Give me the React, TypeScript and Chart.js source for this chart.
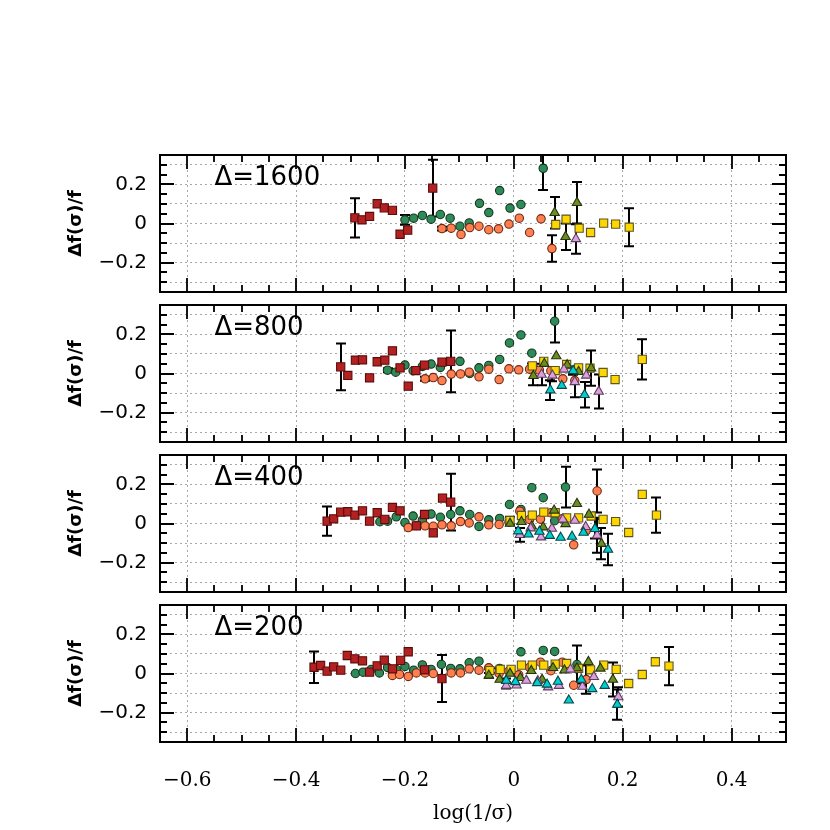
import React, { useEffect, useRef } from 'react';
import { Chart, registerables } from 'chart.js';

Chart.register(...registerables);

type Pt = [number, number, number]; // [log(1/sigma), delta f / f, error]

const X_TICKS = [-0.6, -0.4, -0.2, 0, 0.2, 0.4];
const Y_GRID = [-0.3, -0.2, -0.1, 0, 0.1, 0.2, 0.3];
const Y_LABELS = [-0.2, 0, 0.2];
const PANEL_LABELS = ['Δ=1600', 'Δ=800', 'Δ=400', 'Δ=200'];

// ---------- Δ = 1600 ----------
const red1600: Pt[] = [
  [-0.292, 0.029, 0.1], [-0.279, 0.019, 0], [-0.265, 0.036, 0], [-0.251, 0.101, 0],
  [-0.238, 0.08, 0], [-0.223, 0.067, 0], [-0.209, -0.055, 0], [-0.195, -0.034, 0],
  [-0.149, 0.181, 0.145],
];
const green1600: Pt[] = [
  [-0.2, 0.019, 0.025], [-0.184, 0.027, 0], [-0.168, 0.041, 0], [-0.152, 0.022, 0],
  [-0.135, 0.046, 0], [-0.117, 0.027, 0], [-0.099, -0.014, 0], [-0.082, 0.003, 0],
  [-0.063, 0.103, 0], [-0.046, 0.056, 0], [-0.026, 0.168, 0], [-0.007, 0.079, 0],
  [0.013, 0.097, 0], [0.054, 0.282, 0.111],
];
const orange1600: Pt[] = [
  [-0.132, -0.026, 0.01], [-0.115, -0.024, 0], [-0.097, -0.056, 0], [-0.081, -0.021, 0],
  [-0.064, -0.014, 0], [-0.046, -0.032, 0], [-0.028, -0.027, 0], [-0.009, -0.003, 0],
  [0.01, 0.027, 0], [0.029, -0.046, 0], [0.05, 0.024, 0], [0.07, -0.128, 0.068],
];
const gold1600: Pt[] = [
  [0.077, -0.005, 0], [0.096, 0.022, 0], [0.12, -0.024, 0], [0.141, -0.046, 0],
  [0.165, 0.002, 0], [0.187, -0.003, 0], [0.212, -0.019, 0.097],
];
const olive1600: Pt[] = [
  [0.075, 0.055, 0.08], [0.095, -0.068, 0.068], [0.116, 0.106, 0.106],
];
const plum1600: Pt[] = [[0.114, -0.079, 0.075]];
const cyan1600: Pt[] = [];

// ---------- Δ = 800 ----------
const red800: Pt[] = [
  [-0.318, 0.034, 0.119], [-0.305, -0.01, 0], [-0.291, 0.068, 0], [-0.278, 0.07, 0],
  [-0.265, -0.022, 0], [-0.251, 0.06, 0], [-0.237, 0.068, 0], [-0.223, 0.116, 0],
  [-0.209, 0.029, 0], [-0.194, -0.065, 0], [-0.18, 0.015, 0], [-0.164, 0.043, 0],
  [-0.132, 0.058, 0], [-0.116, 0.062, 0.158],
];
const green800: Pt[] = [
  [-0.232, 0.017, 0.01], [-0.217, 0.007, 0], [-0.2, 0.043, 0], [-0.185, 0.014, 0],
  [-0.168, 0.036, 0], [-0.152, 0.048, 0], [-0.135, 0.031, 0], [-0.099, 0.062, 0],
  [-0.081, 0.0, 0], [-0.064, 0.029, 0], [-0.046, 0.041, 0], [-0.026, 0.072, 0],
  [-0.008, 0.156, 0], [0.013, 0.197, 0], [0.033, 0.104, 0], [0.075, 0.267, 0.109],
];
const orange800: Pt[] = [
  [-0.163, -0.027, 0.01], [-0.148, -0.021, 0], [-0.132, -0.036, 0], [-0.115, -0.003, 0],
  [-0.098, -0.002, 0], [-0.082, 0.007, 0], [-0.064, -0.017, 0], [-0.046, 0.022, 0],
  [-0.027, -0.031, 0], [-0.009, 0.024, 0], [0.009, 0.019, 0], [0.029, 0.022, 0],
  [0.047, 0.017, 0], [0.068, 0.014, 0], [0.09, -0.027, 0], [0.112, -0.036, 0],
];
const gold800: Pt[] = [
  [0.034, 0.039, 0.012], [0.055, 0.062, 0], [0.076, 0.015, 0], [0.097, 0.046, 0],
  [0.119, 0.029, 0], [0.14, 0.027, 0], [0.164, 0.005, 0], [0.186, -0.031, 0],
  [0.236, 0.072, 0.103],
];
const olive800: Pt[] = [
  [0.036, -0.012, 0.048], [0.056, 0.05, 0], [0.078, 0.089, 0], [0.098, 0.043, 0],
  [0.119, 0.009, 0], [0.142, 0.027, 0.09],
];
const plum800: Pt[] = [
  [0.051, -0.005, 0.055], [0.071, -0.01, 0.03], [0.092, 0.021, 0], [0.112, -0.043, 0.078],
  [0.133, -0.01, 0], [0.156, -0.092, 0.087],
];
const cyan800: Pt[] = [
  [0.067, -0.085, 0.05], [0.088, -0.062, 0], [0.109, 0.014, 0.02], [0.13, -0.109, 0.065],
];

// ---------- Δ = 400 ----------
const red400: Pt[] = [
  [-0.343, 0.012, 0.075], [-0.331, 0.024, 0], [-0.318, 0.058, 0], [-0.305, 0.06, 0],
  [-0.292, 0.043, 0], [-0.278, 0.065, 0], [-0.265, 0.012, 0], [-0.251, 0.055, 0],
  [-0.237, 0.021, 0], [-0.223, 0.082, 0], [-0.209, 0.065, 0], [-0.179, -0.012, 0],
  [-0.164, 0.046, 0], [-0.148, -0.048, 0], [-0.131, 0.13, 0], [-0.116, 0.109, 0.145],
];
const green400: Pt[] = [
  [-0.246, 0.009, 0], [-0.232, 0.012, 0], [-0.216, 0.034, 0], [-0.2, 0.005, 0],
  [-0.185, 0.038, 0], [-0.168, 0.017, 0], [-0.152, 0.048, 0], [-0.135, 0.032, 0],
  [-0.116, 0.046, 0], [-0.099, 0.065, 0], [-0.081, 0.046, 0], [-0.064, -0.015, 0],
  [-0.046, 0.019, 0], [-0.026, 0.026, 0], [-0.008, 0.097, 0], [0.013, 0.072, 0],
  [0.033, 0.183, 0], [0.054, 0.132, 0], [0.075, 0.014, 0], [0.095, 0.186, 0.104],
];
const orange400: Pt[] = [
  [-0.194, -0.021, 0], [-0.179, -0.01, 0], [-0.163, -0.012, 0], [-0.148, -0.014, 0],
  [-0.132, -0.007, 0], [-0.115, -0.012, 0], [-0.098, 0.01, 0], [-0.082, 0.003, 0],
  [-0.064, 0.034, 0], [-0.046, -0.007, 0], [-0.027, -0.005, 0], [-0.009, 0.007, 0],
  [0.011, 0.063, 0], [0.029, 0.021, 0], [0.049, 0.022, 0], [0.068, 0.055, 0],
  [0.089, 0.024, 0], [0.11, -0.109, 0], [0.133, -0.036, 0], [0.153, 0.166, 0.11],
];
const gold400: Pt[] = [
  [-0.007, 0.015, 0.02], [0.014, 0.041, 0], [0.034, 0.043, 0], [0.055, 0.058, 0],
  [0.076, 0.055, 0], [0.097, 0.029, 0], [0.119, 0.029, 0], [0.142, 0.038, 0],
  [0.164, 0.021, 0], [0.187, 0.01, 0], [0.211, -0.046, 0], [0.236, 0.149, 0],
  [0.262, 0.043, 0.09],
];
const olive400: Pt[] = [
  [-0.007, 0.0, 0], [0.014, 0.009, 0], [0.033, -0.014, 0], [0.054, -0.019, 0],
  [0.074, 0.067, 0], [0.095, -0.002, 0], [0.116, 0.101, 0], [0.138, 0.046, 0],
  [0.161, -0.103, 0.08],
];
const plum400: Pt[] = [
  [0.011, -0.058, 0.035], [0.031, -0.024, 0], [0.05, -0.07, 0], [0.07, -0.026, 0],
  [0.09, 0.021, 0], [0.112, 0.015, 0], [0.132, -0.017, 0], [0.153, -0.06, 0.09],
];
const cyan400: Pt[] = [
  [0.008, -0.039, 0], [0.027, -0.055, 0], [0.047, -0.041, 0], [0.066, -0.062, 0],
  [0.086, -0.072, 0], [0.107, -0.067, 0], [0.128, -0.046, 0], [0.149, -0.027, 0.05],
  [0.173, -0.133, 0.08],
];

// ---------- Δ = 200 ----------
const red200: Pt[] = [
  [-0.367, 0.032, 0.08], [-0.355, 0.041, 0], [-0.343, 0.012, 0], [-0.331, 0.034, 0],
  [-0.318, 0.017, 0], [-0.306, 0.092, 0], [-0.292, 0.075, 0], [-0.278, 0.065, 0],
  [-0.265, 0.007, 0], [-0.251, 0.039, 0], [-0.238, 0.068, 0], [-0.223, 0.024, 0],
  [-0.208, 0.067, 0], [-0.194, 0.111, 0], [-0.164, 0.019, 0], [-0.132, -0.026, 0.12],
];
const green200: Pt[] = [
  [-0.291, 0.0, 0], [-0.277, 0.007, 0], [-0.262, 0.021, 0], [-0.247, 0.003, 0],
  [-0.232, 0.031, 0], [-0.216, 0.021, 0], [-0.2, 0.036, 0], [-0.184, 0.017, 0],
  [-0.168, 0.044, 0], [-0.152, 0.021, 0], [-0.133, 0.046, 0], [-0.116, 0.026, 0],
  [-0.099, 0.024, 0], [-0.082, 0.055, 0], [-0.064, 0.063, 0], [-0.046, 0.027, 0],
  [-0.026, 0.026, 0], [0.013, 0.111, 0], [0.054, 0.118, 0], [0.075, 0.113, 0],
  [0.116, 0.046, 0.097],
];
const orange200: Pt[] = [
  [-0.223, -0.01, 0], [-0.21, -0.005, 0], [-0.194, -0.015, 0], [-0.179, 0.003, 0],
  [-0.163, 0.003, 0], [-0.148, 0.0, 0], [-0.115, 0.003, 0], [-0.098, 0.003, 0],
  [-0.082, 0.024, 0], [-0.064, 0.017, 0], [-0.046, 0.029, 0], [-0.027, 0.0, 0],
  [-0.009, 0.012, 0], [0.009, -0.007, 0], [0.029, 0.031, 0], [0.049, 0.058, 0],
  [0.068, 0.014, 0], [0.089, 0.058, 0], [0.11, -0.06, 0], [0.133, -0.031, 0.072],
];
const gold200: Pt[] = [
  [-0.044, 0.015, 0.012], [-0.025, 0.021, 0], [-0.005, 0.021, 0], [0.014, 0.043, 0],
  [0.034, 0.043, 0], [0.055, 0.043, 0], [0.076, 0.048, 0], [0.097, 0.051, 0],
  [0.119, 0.026, 0], [0.141, 0.019, 0], [0.165, 0.043, 0], [0.188, 0.021, 0],
  [0.211, -0.051, 0], [0.236, -0.005, 0], [0.26, 0.06, 0], [0.285, 0.038, 0.098],
];
const olive200: Pt[] = [
  [-0.046, -0.01, 0.012], [-0.026, -0.031, 0], [-0.007, 0.0, 0], [0.012, -0.022, 0],
  [0.032, 0.014, 0], [0.052, -0.031, 0], [0.072, 0.029, 0], [0.093, 0.017, 0],
  [0.116, 0.027, 0], [0.137, 0.06, 0], [0.159, 0.026, 0], [0.182, -0.031, 0.087],
];
const plum200: Pt[] = [
  [-0.014, -0.062, 0.015], [0.005, -0.06, 0], [0.023, -0.036, 0], [0.044, -0.038, 0],
  [0.063, -0.07, 0], [0.083, -0.062, 0], [0.104, 0.021, 0], [0.126, -0.067, 0],
  [0.147, -0.017, 0], [0.192, -0.12, 0.05],
];
const cyan200: Pt[] = [
  [-0.014, -0.036, 0.01], [0.003, -0.043, 0], [0.043, -0.048, 0], [0.061, -0.056, 0],
  [0.081, -0.041, 0], [0.101, -0.137, 0], [0.124, -0.031, 0], [0.144, -0.079, 0],
  [0.167, -0.062, 0], [0.19, -0.159, 0.077],
];

// series order: bottom -> top
const SERIES_STYLES = [
  { style: 'circle', fill: '#2E8B57', border: '#12351f', radius: 4.2 },
  { style: 'circle', fill: '#FF7F50', border: '#6b2a12', radius: 4.2 },
  { style: 'rect', fill: '#B22222', border: '#5c0b0b', radius: 5.8 },
  { style: 'rect', fill: '#FFD700', border: '#5d5525', radius: 5.8 },
  { style: 'triangle', fill: '#6B8E23', border: '#26330c', radius: 5.4 },
  { style: 'triangle', fill: '#DDA0DD', border: '#5e3e5e', radius: 5.4 },
  { style: 'triangle', fill: '#00CED1', border: '#0b4748', radius: 5.4 },
];

const PANEL_SERIES: Pt[][][] = [
  [green1600, orange1600, red1600, gold1600, olive1600, plum1600, cyan1600],
  [green800, orange800, red800, gold800, olive800, plum800, cyan800],
  [green400, orange400, red400, gold400, olive400, plum400, cyan400],
  [green200, orange200, red200, gold200, olive200, plum200, cyan200],
];

const W = 830;
const PANEL_TOP0 = 155;
const PANEL_STEP = 150;
const PANEL_H = 137;
const PAD = 30;
const LEFT = 160;
const RIGHT = 786;

function fmt(v: number): string {
  if (Math.abs(v) < 1e-9) return '0';
  return (v < 0 ? '\u2212' : '') + Math.abs(v).toFixed(1);
}

function makeChart(canvas: HTMLCanvasElement, idx: number): Chart {
  const last = idx === PANEL_SERIES.length - 1;
  const label = PANEL_LABELS[idx];
  const series = PANEL_SERIES[idx];

  const decor = {
    id: 'decor' + idx,
    beforeDatasetsDraw(chart: any) {
      const { ctx, chartArea: a } = chart;
      const xs = chart.scales.x;
      const ys = chart.scales.y;
      ctx.save();
      ctx.beginPath();
      ctx.rect(a.left, a.top, a.right - a.left, a.bottom - a.top);
      ctx.clip();
      ctx.strokeStyle = '#000';
      ctx.lineWidth = 2;
      chart.data.datasets.forEach((ds: any) => {
        (ds.errs as number[]).forEach((e: number, i: number) => {
          if (!e) return;
          const p = ds.data[i];
          const px = Math.round(xs.getPixelForValue(p.x));
          const y1 = ys.getPixelForValue(p.y + e);
          const y2 = ys.getPixelForValue(p.y - e);
          ctx.beginPath();
          ctx.moveTo(px, y1);
          ctx.lineTo(px, y2);
          ctx.moveTo(px - 5, y1);
          ctx.lineTo(px + 5, y1);
          ctx.moveTo(px - 5, y2);
          ctx.lineTo(px + 5, y2);
          ctx.stroke();
        });
      });
      ctx.restore();
    },
    afterDraw(chart: any) {
      const { ctx, chartArea: a } = chart;
      const xs = chart.scales.x;
      const ys = chart.scales.y;
      ctx.save();
      ctx.strokeStyle = '#000';
      ctx.lineWidth = 1.8;
      ctx.beginPath();
      for (let i = -13; i <= 10; i++) {
        const px = Math.round(xs.getPixelForValue(i * 0.05));
        const len = i % 4 === 0 ? 14 : 7;
        ctx.moveTo(px, a.bottom);
        ctx.lineTo(px, a.bottom - len);
        ctx.moveTo(px, a.top);
        ctx.lineTo(px, a.top + len);
      }
      for (let i = -7; i <= 7; i++) {
        const py = Math.round(ys.getPixelForValue(i * 0.05));
        const len = i % 4 === 0 ? 14 : 7;
        ctx.moveTo(a.left, py);
        ctx.lineTo(a.left + len, py);
        ctx.moveTo(a.right, py);
        ctx.lineTo(a.right - len, py);
      }
      ctx.stroke();
      ctx.lineWidth = 2;
      ctx.strokeRect(a.left, a.top, a.right - a.left, a.bottom - a.top);
      ctx.fillStyle = '#000';
      ctx.font = '26px "DejaVu Sans"';
      ctx.textAlign = 'left';
      ctx.textBaseline = 'alphabetic';
      ctx.fillText(label, xs.getPixelForValue(-0.55), ys.getPixelForValue(0.195));
      ctx.restore();
    },
  };

  const gridColor = '#a8a8a8';

  return new Chart(canvas, {
    type: 'scatter',
    data: {
      datasets: series.map((pts, si) => {
        const st = SERIES_STYLES[si];
        return {
          data: pts.map((p) => ({ x: p[0], y: p[1] })),
          errs: pts.map((p) => p[2]),
          pointStyle: st.style,
          pointRadius: st.radius,
          pointBackgroundColor: st.fill,
          pointBorderColor: st.border,
          pointBorderWidth: 1.1,
          order: SERIES_STYLES.length - si,
        } as any;
      }),
    },
    options: {
      animation: false,
      responsive: false,
      events: [],
      layout: { padding: { left: 0, right: W - RIGHT, top: PAD, bottom: last ? 0 : PAD } },
      plugins: { legend: { display: false }, tooltip: { enabled: false } },
      scales: {
        x: {
          type: 'linear',
          min: -0.65,
          max: 0.5,
          afterBuildTicks: (s: any) => {
            s.ticks = X_TICKS.map((v) => ({ value: v }));
          },
          afterFit: (s: any) => {
            s.height = last ? W - (PANEL_TOP0 + idx * PANEL_STEP + PANEL_H) : 0;
          },
          ticks: {
            display: last,
            autoSkip: false,
            maxRotation: 0,
            padding: 27,
            color: '#000',
            font: { family: 'DejaVu Serif', size: 20 },
            callback: (v: any) => fmt(Number(v)),
          },
          grid: { color: gridColor, lineWidth: 1, drawTicks: false },
          border: { display: false, dash: [2, 3] },
          title: {
            display: last,
            text: 'log(1/σ)',
            color: '#000',
            font: { family: 'DejaVu Serif', size: 20 },
            padding: { top: 0, bottom: 4 },
          },
        },
        y: {
          type: 'linear',
          min: -0.35,
          max: 0.35,
          afterBuildTicks: (s: any) => {
            s.ticks = Y_GRID.map((v) => ({ value: v }));
          },
          afterFit: (s: any) => {
            s.width = LEFT;
          },
          ticks: {
            autoSkip: false,
            padding: 13,
            color: '#000',
            font: { family: 'DejaVu Sans', size: 20 },
            callback: (v: any) => {
              const n = Number(v);
              return Y_LABELS.some((t) => Math.abs(t - n) < 1e-6) ? fmt(n) : '';
            },
          },
          grid: { color: gridColor, lineWidth: 1, drawTicks: false },
          border: { display: false, dash: [2, 3] },
          title: {
            display: true,
            text: 'Δf(σ)/f',
            color: '#000',
            font: { family: 'DejaVu Sans', size: 18, weight: 'bold' },
            padding: { top: 66, bottom: 0 },
          },
        },
      },
    } as any,
    plugins: [decor],
  });
}

export default function App() {
  const refs = useRef<(HTMLCanvasElement | null)[]>([]);

  useEffect(() => {
    const charts = PANEL_SERIES.map((_, i) => makeChart(refs.current[i] as HTMLCanvasElement, i));
    return () => charts.forEach((c) => c.destroy());
  }, []);

  return (
    <div style={{ position: 'fixed', left: 0, top: 0, width: W, height: W, background: '#fff' }}>
      {PANEL_SERIES.map((_, i) => {
        const top = PANEL_TOP0 + i * PANEL_STEP - PAD;
        const last = i === PANEL_SERIES.length - 1;
        const h = last ? W - top : PANEL_H + 2 * PAD;
        return (
          <canvas
            key={i}
            ref={(el) => {
              refs.current[i] = el;
            }}
            width={W}
            height={h}
            style={{ position: 'absolute', left: 0, top, width: W, height: h }}
          />
        );
      })}
    </div>
  );
}
